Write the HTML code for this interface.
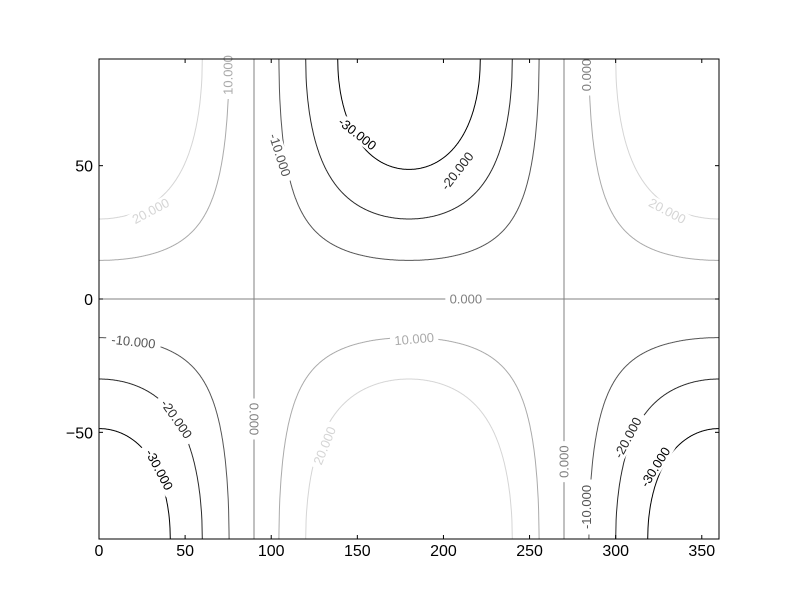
<!DOCTYPE html>
<html><head><meta charset="utf-8"><style>
body{margin:0;background:#fff}
svg{display:block;font-family:"Liberation Sans",sans-serif}
</style></head><body>
<svg id="chart" width="800" height="600">
<rect width="800" height="600" fill="#fff"/>
<g id="lines"></g>
<g id="labels"></g>
<rect x="99" y="59" width="620" height="480" fill="none" stroke="#000" stroke-width="1"/>
<g id="ticks"></g>
</svg>
<script>
const levels = [-30, -20, -10, 0, 10, 20, 30];
const levelColors = ['#000000', '#2a2a2a', '#555555', '#808080', '#aaaaaa', '#d5d5d5', '#ffffff'];
const amplitude = 40;
const xTicks = [0, 50, 100, 150, 200, 250, 300, 350];
const yTicks = [-50, 0, 50];
const labelText = ['10.000','20.000','-10.000','-30.000','-20.000','0.000','20.000','0.000','-10.000','10.000','-20.000','0.000','20.000','-30.000','0.000','-20.000','-10.000','-30.000'];
const labelLevel = [10,20,-10,-30,-20,0,20,0,-10,10,-20,0,20,-30,0,-20,-10,-30];
const labelLon = [75,30,105,150,208,283,330,213,20,183,45,90,131,35,270,307,283,323];
const labelLat = [84,33,54,62,48,84,33,0,-16,-15,-45,-45,-55,-64,-61,-52,-78,-63];
const labelRot = [-90,-28,72,38,-52,-90,28,0,6,-5,55,90,-68,62,-90,-62,-90,-58];

const X = v => 99 + v * 620 / 360;
const Y = v => 299 - v * 240 / 90;
const NS = 'http://www.w3.org/2000/svg';
const d2r = Math.PI / 180;
const lg = document.getElementById('lines');
levels.forEach((c, i) => {
  let segs = [], cur = [];
  let lons = [];
  for (let lon = 0; lon <= 360.0001; lon += 0.25) lons.push(lon);
  if (c !== 0 && Math.abs(c) < amplitude) {
    const a = Math.acos(Math.abs(c) / amplitude) / d2r;
    lons.push(a, 180 - a, 180 + a, 360 - a);
  }
  lons.sort((p, q) => p - q);
  lons.forEach(lon => {
    const cv = Math.cos(lon * d2r);
    let s = (Math.abs(cv) < 1e-9 || c === 0) ? NaN : c / (amplitude * cv);
    if (isFinite(s) && Math.abs(s) <= 1 + 1e-9) {
      s = Math.max(-1, Math.min(1, s));
      cur.push([X(lon), Y(Math.asin(s) / d2r)]);
    } else if (cur.length) { segs.push(cur); cur = []; }
  });
  if (cur.length) segs.push(cur);
  if (c === 0) {
    segs = [[[X(0), Y(0)], [X(360), Y(0)]], [[X(90), Y(90)], [X(90), Y(-90)]], [[X(270), Y(90)], [X(270), Y(-90)]]];
  }
  segs.forEach(sg => {
    const p = document.createElementNS(NS, 'polyline');
    p.setAttribute('points', sg.map(q => q[0].toFixed(1) + ',' + q[1].toFixed(1)).join(' '));
    p.setAttribute('fill', 'none');
    p.setAttribute('stroke', levelColors[i]);
    p.setAttribute('stroke-width', '1');
    
    
    lg.appendChild(p);
  });
});
const lb = document.getElementById('labels');
labelText.forEach((t, i) => {
  const g = document.createElementNS(NS, 'g');
  g.setAttribute('transform', `translate(${X(labelLon[i])},${Y(labelLat[i])}) rotate(${labelRot[i]})`);
  
  
  const w = t.length * 7 + 6;
  const r = document.createElementNS(NS, 'rect');
  r.setAttribute('x', -w / 2); r.setAttribute('y', -7); r.setAttribute('width', w); r.setAttribute('height', 14);
  r.setAttribute('fill', '#fff');
  g.appendChild(r);
  const tx = document.createElementNS(NS, 'text');
  tx.setAttribute('text-anchor', 'middle'); tx.setAttribute('y', 4.5);
  tx.setAttribute('font-size', '13');
  tx.setAttribute('fill', levelColors[levels.indexOf(labelLevel[i])]);
  tx.textContent = t;
  g.appendChild(tx);
  lb.appendChild(g);
});
const tg = document.getElementById('ticks');
function line(x1, y1, x2, y2) {
  const l = document.createElementNS(NS, 'line');
  l.setAttribute('x1', x1); l.setAttribute('y1', y1); l.setAttribute('x2', x2); l.setAttribute('y2', y2);
  l.setAttribute('stroke', '#000');
  
  
  tg.appendChild(l);
}
function text(x, y, s, anchor) {
  const t = document.createElementNS(NS, 'text');
  t.setAttribute('x', x); t.setAttribute('y', y); t.setAttribute('text-anchor', anchor);
  t.setAttribute('font-size', '16');
  
  
  t.textContent = s;
  tg.appendChild(t);
}
xTicks.forEach(v => {
  line(X(v), 539, X(v), 535); line(X(v), 59, X(v), 63);
  text(X(v), 556, String(v), 'middle');
});
yTicks.forEach(v => {
  line(99, Y(v), 103, Y(v)); line(719, Y(v), 715, Y(v));
  text(93, Y(v) + 6, v < 0 ? '\u2212' + Math.abs(v) : String(v), 'end');
});
</script>
</body></html>
